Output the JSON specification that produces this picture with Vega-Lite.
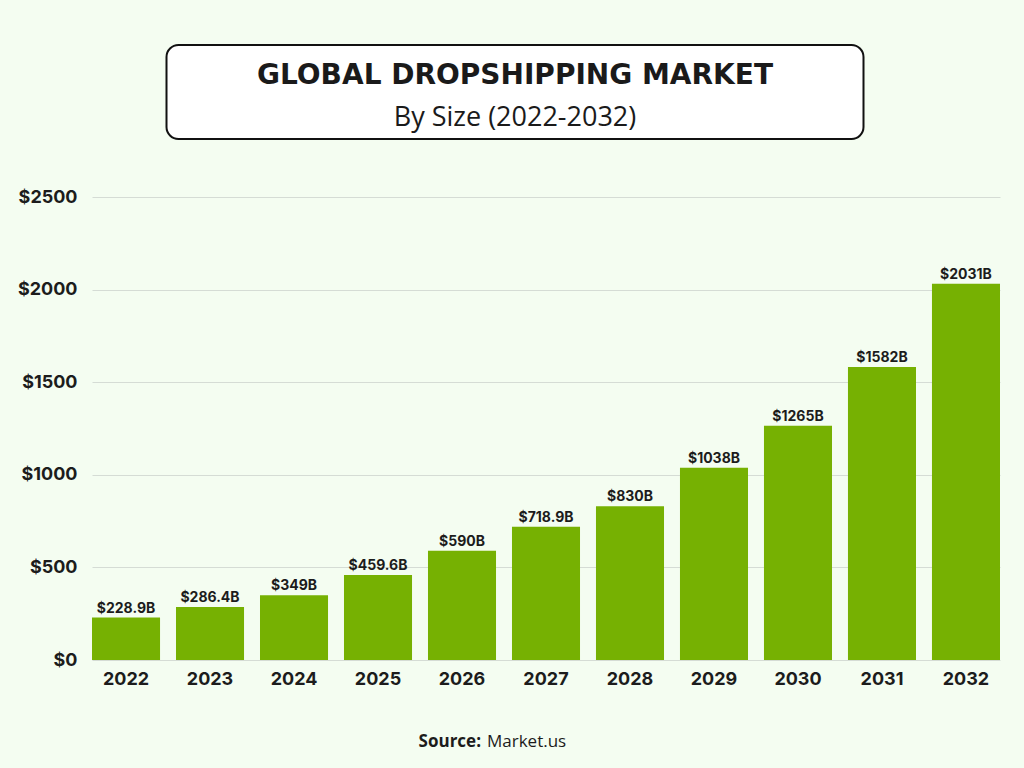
{
  "$schema": "https://vega.github.io/schema/vega-lite/v6.json",
  "background": "#f4fdf1",
  "padding": {"top": 44, "left": 17, "right": 24, "bottom": 18},
  "spacing": 45,
  "center": true,
  "config": {"view": {"stroke": null}, "font": "Inter"},
  "vconcat": [
    {
      "spacing": 20,
      "hconcat": [
        {
          "width": 697,
          "height": 94,
          "view": {"stroke": "#111111", "strokeWidth": 2, "cornerRadius": 12, "fill": "#ffffff"},
          "data": {"values": [
            {"line": "title", "text": "GLOBAL DROPSHIPPING MARKET"},
            {"line": "subtitle", "text": "By Size (2022-2032)"}
          ]},
          "encoding": {
            "y": {"field": "line", "type": "nominal", "axis": null,
                  "scale": {"type": "point", "domain": ["title", "subtitle"], "padding": 0.568, "align": 0.56}},
            "text": {"field": "text"}
          },
          "layer": [
            {"transform": [{"filter": "datum.line === 'title'"}],
             "mark": {"type": "text", "font": "DejaVu Sans", "fontSize": 28, "fontWeight": "bold", "letterSpacing": 1.5, "color": "#1a1a1a", "baseline": "middle", "dy": 3}},
            {"transform": [{"filter": "datum.line === 'subtitle'"}],
             "mark": {"type": "text", "font": "Open Sans", "fontSize": 27, "fontWeight": 400, "color": "#1a1a1a", "baseline": "middle", "dy": 1}}
          ]
        },
        {
          "width": 41,
          "height": 98,
          "data": {"values": [{}]},
          "mark": {"type": "text", "text": ""},
          "encoding": {}
        }
      ]
    },
    {
      "width": 908,
      "height": 463,
      "data": {"values": [
        {"year": "2022", "size": 228.9},
        {"year": "2023", "size": 286.4},
        {"year": "2024", "size": 349},
        {"year": "2025", "size": 459.6},
        {"year": "2026", "size": 590},
        {"year": "2027", "size": 718.9},
        {"year": "2028", "size": 830},
        {"year": "2029", "size": 1038},
        {"year": "2030", "size": 1265},
        {"year": "2031", "size": 1582},
        {"year": "2032", "size": 2031}
      ]},
      "encoding": {
        "x": {"field": "year", "type": "ordinal",
              "scale": {"paddingInner": 0.19, "paddingOuter": 0},
              "axis": {"title": null, "labelAngle": 0, "ticks": false, "domain": false,
                       "labelFontSize": 18, "labelFontWeight": "bold", "labelColor": "#1c1c1c", "labelPadding": 10}},
        "y": {"field": "size", "type": "quantitative",
              "scale": {"domain": [0, 2500]},
              "axis": {"title": null, "values": [0, 500, 1000, 1500, 2000, 2500], "format": "$d",
                       "ticks": false, "domain": false, "labelFontSize": 18, "labelFontWeight": "bold",
                       "labelColor": "#1c1c1c", "labelPadding": 15, "gridColor": "#d5dcd5"}}
      },
      "layer": [
        {"mark": {"type": "bar", "color": "#76b102"}},
        {"transform": [{"calculate": "'$' + datum.size + 'B'", "as": "label"}],
         "mark": {"type": "text", "fontSize": 14, "fontWeight": 700, "baseline": "alphabetic", "dy": -5, "color": "#1c1c1c"},
         "encoding": {"text": {"field": "label"}}}
      ]
    },
    {
      "width": 300,
      "height": 4,
      "data": {"values": [{}]},
      "layer": [
        {"mark": {"type": "text", "text": "Source:", "align": "right", "baseline": "middle", "font": "Open Sans", "fontSize": 17, "fontWeight": "bold", "dx": -65, "color": "#1c1c1c"}, "encoding": {}},
        {"mark": {"type": "text", "text": "Market.us", "align": "left", "baseline": "middle", "font": "Open Sans", "fontSize": 17, "dx": -59, "color": "#1c1c1c"}, "encoding": {}}
      ]
    }
  ]
}
